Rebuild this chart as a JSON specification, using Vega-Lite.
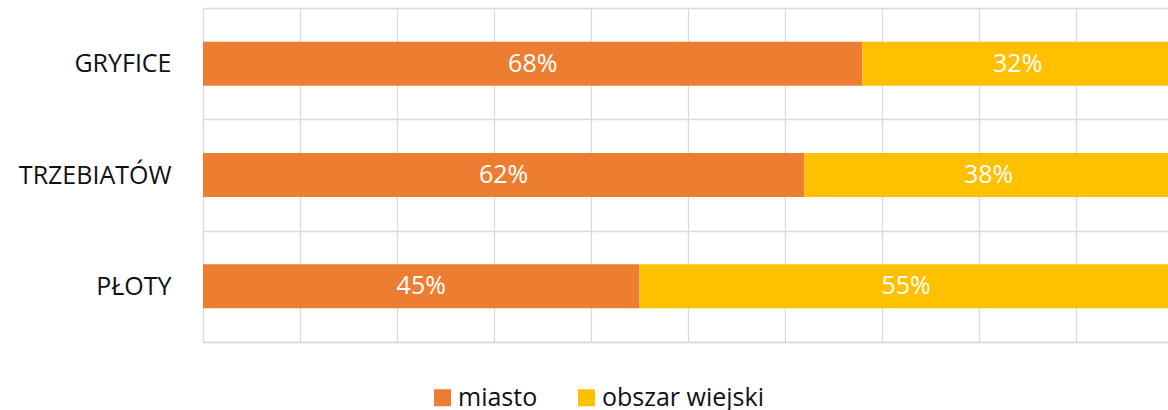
{
  "$schema": "https://vega.github.io/schema/vega-lite/v6.json",
  "width": 965,
  "height": 334,
  "autosize": {"type": "none"},
  "padding": {"left": 203, "top": 8, "right": 0, "bottom": 68},
  "background": "white",
  "config": {"view": {"stroke": null}, "font": "Open Sans"},
  "data": {
    "values": [
      {"gmina": "GRYFICE", "obszar": "miasto", "udzial": 0.68},
      {"gmina": "GRYFICE", "obszar": "obszar wiejski", "udzial": 0.32},
      {"gmina": "TRZEBIATÓW", "obszar": "miasto", "udzial": 0.62},
      {"gmina": "TRZEBIATÓW", "obszar": "obszar wiejski", "udzial": 0.38},
      {"gmina": "PŁOTY", "obszar": "miasto", "udzial": 0.45},
      {"gmina": "PŁOTY", "obszar": "obszar wiejski", "udzial": 0.55}
    ]
  },
  "encoding": {
    "y": {
      "field": "gmina",
      "type": "nominal",
      "sort": ["GRYFICE", "TRZEBIATÓW", "PŁOTY"],
      "title": null,
      "scale": {"paddingInner": 0, "paddingOuter": 0},
      "axis": {
        "domain": false,
        "ticks": false,
        "tickBand": "extent",
        "grid": true,
        "gridColor": "#d9d9d9",
        "gridWidth": 1.3,
        "labelFontSize": 25,
        "labelFont": "Open Sans",
        "labelColor": "#111111",
        "labelPadding": 32
      }
    },
    "order": {"field": "obszar"}
  },
  "layer": [
    {
      "mark": {"type": "bar", "height": {"band": 0.395}},
      "encoding": {
        "x": {
          "field": "udzial",
          "type": "quantitative",
          "stack": "zero",
          "title": null,
          "scale": {"domain": [0, 0.995], "nice": false, "clamp": true},
          "axis": {
            "values": [0, 0.1, 0.2, 0.3, 0.4, 0.5, 0.6, 0.7, 0.8, 0.9],
            "labels": false,
            "ticks": false,
            "domain": true,
            "domainColor": "#d9d9d9",
            "domainWidth": 1.3,
            "grid": true,
            "gridColor": "#d9d9d9",
            "gridWidth": 1.3
          }
        },
        "color": {
          "field": "obszar",
          "type": "nominal",
          "scale": {"domain": ["miasto", "obszar wiejski"], "range": ["#ED7D31", "#FFC000"]},
          "legend": {
            "orient": "none",
            "legendX": 227,
            "legendY": 377,
            "direction": "horizontal",
            "title": null,
            "symbolType": "square",
            "symbolSize": 289,
            "symbolStrokeWidth": 0,
            "symbolOpacity": 1,
            "labelFontSize": 25,
            "labelFont": "Open Sans",
            "labelColor": "#111111",
            "labelOffset": 3,
            "labelLimit": 0,
            "columnPadding": 36,
            "padding": 0
          }
        }
      }
    },
    {
      "mark": {"type": "text", "color": "white", "fontSize": 25, "font": "Open Sans", "baseline": "middle", "align": "center"},
      "encoding": {
        "x": {
          "field": "udzial",
          "type": "quantitative",
          "stack": "zero",
          "bandPosition": 0.5,
          "title": null,
          "scale": {"domain": [0, 0.995], "nice": false, "clamp": true},
          "axis": {
            "values": [0, 0.1, 0.2, 0.3, 0.4, 0.5, 0.6, 0.7, 0.8, 0.9],
            "labels": false,
            "ticks": false,
            "domain": true,
            "domainColor": "#d9d9d9",
            "domainWidth": 1.3,
            "grid": true,
            "gridColor": "#d9d9d9",
            "gridWidth": 1.3
          }
        },
        "detail": {"field": "obszar"},
        "text": {"field": "udzial", "type": "quantitative", "format": ".0%"}
      }
    }
  ]
}
